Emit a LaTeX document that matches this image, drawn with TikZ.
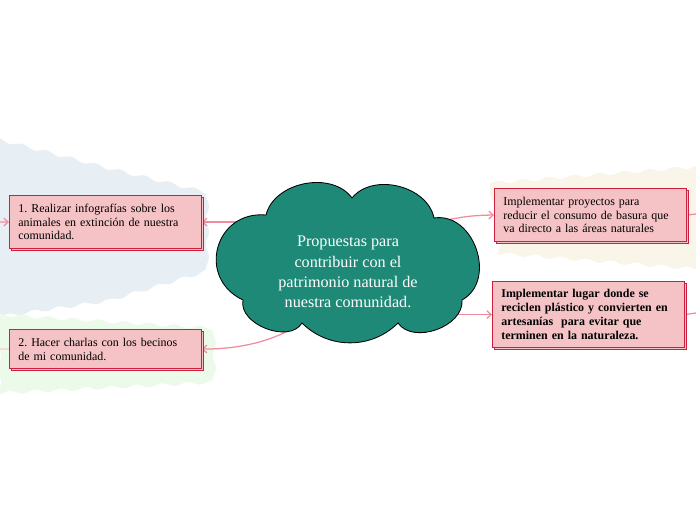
\documentclass[tikz,border=0pt]{standalone}
\usepackage{fontspec}
\setmainfont{Liberation Serif}
\usepackage{tikz}
\usetikzlibrary{shapes.geometric,arrows.meta,shadows,backgrounds,decorations.pathmorphing}
\usepackage{xcolor}
\definecolor{nubeverde}{RGB}{30,137,119}
\definecolor{cajarosa}{RGB}{245,195,197}
\definecolor{bordecaja}{RGB}{204,32,62}
\definecolor{lineapink}{RGB}{241,140,158}
\definecolor{fondoazul}{RGB}{231,239,245}
\definecolor{fondoverde}{RGB}{236,250,233}
\definecolor{fondocrema}{RGB}{249,245,233}
\frenchspacing

\begin{document}
\begin{tikzpicture}[
    x=0.025cm, y=-0.025cm,
    box/.style={rectangle, draw=bordecaja, line width=0.8pt, fill=cajarosa, anchor=north west, inner xsep=0.22cm, text width=4.35cm, align=left, font=\fontsize{8.5}{9.8}\selectfont, copy shadow={shadow xshift=1.4pt, shadow yshift=-1.4pt, draw=bordecaja, fill=cajarosa}},
    nube/.style={draw=black, line width=0.6pt, fill=nubeverde},
    nubetexto/.style={ellipse, text=white, align=center, minimum width=6.5cm, minimum height=3.9cm, font=\fontsize{11.5}{14.4}\selectfont},
    conn/.style={draw=lineapink, line width=0.9pt, -{Straight Barb[length=3pt,width=5.5pt]}},
    ola/.style={decorate, decoration={snake, amplitude=1.2pt, segment length=18pt}}
]
\useasboundingbox (0,0) rectangle (696,520);

\node[box, minimum height=1.325cm] (infografias) at (9,195) {1. Realizar infografías sobre los\\animales en extinción de nuestra\\comunidad.};
\node[box, minimum height=0.975cm] (charlas) at (9,329) {2. Hacer charlas con los becinos\\de mi comunidad.};
\node[box, minimum height=1.325cm] (proyectos) at (494,188) {Implementar proyectos para\\reducir el consumo de basura que\\va directo a las áreas naturales};
\node[box, minimum height=1.65cm, font=\fontsize{8.5}{9.8}\selectfont\bfseries] (reciclaje) at (492,281) {Implementar lugar donde se\\reciclen plástico y convierten en\\artesanías\ \ para evitar que\\terminen en la naturaleza.};

\filldraw[nube] (266,215) to[bend left=65] (352,198) to[bend left=65] (434,218)
    to[bend left=80, looseness=1.2] (462,300) to[bend left=75] (398,323) to[bend left=45] (302,323)
    to[bend left=80] (243,300) to[bend left=80, looseness=1.5] cycle;
\node[nubetexto] (centro) at (348,262) {\rule{0pt}{22pt}Propuestas para\\contribuir con el\\patrimonio natural de\\ nuestra comunidad.};

\coordinate (izq1) at (0,222);
\coordinate (izq2) at (0,349);
\coordinate (der1) at (696,214);
\coordinate (der2) at (696,313);

\begin{scope}[on background layer]
\fill[fondoazul, ola] (-10,137) -- (100,166) -- (206,192) -- (206,258) -- (100,290) -- (-10,306) -- cycle;
\fill[fondoverde, ola] (-10,314) -- (207,328) -- (207,373) -- (-10,384) -- cycle;
\fill[fondocrema, ola] (490,183) -- (706,166) -- (706,264) -- (490,247) -- cycle;

\draw[conn] (infografias.east -| centro.center) -- (infografias.east);
\draw[conn] (centro.center) to[out=250, in=0] (charlas.east);
\draw[conn] (centro.center) to[out=25, in=180] (proyectos.west);
\draw[conn] (reciclaje.west -| centro.center) -- (reciclaje.west);
\draw[conn] (izq1) -- (infografias.west);
\draw[conn, draw=lineapink!45, -] (izq2) -- (charlas.west);
\draw[conn, -] (proyectos.east) -- (der1);
\draw[conn, -] (reciclaje.east) -- (der2);
\end{scope}
\end{tikzpicture}
\end{document}
